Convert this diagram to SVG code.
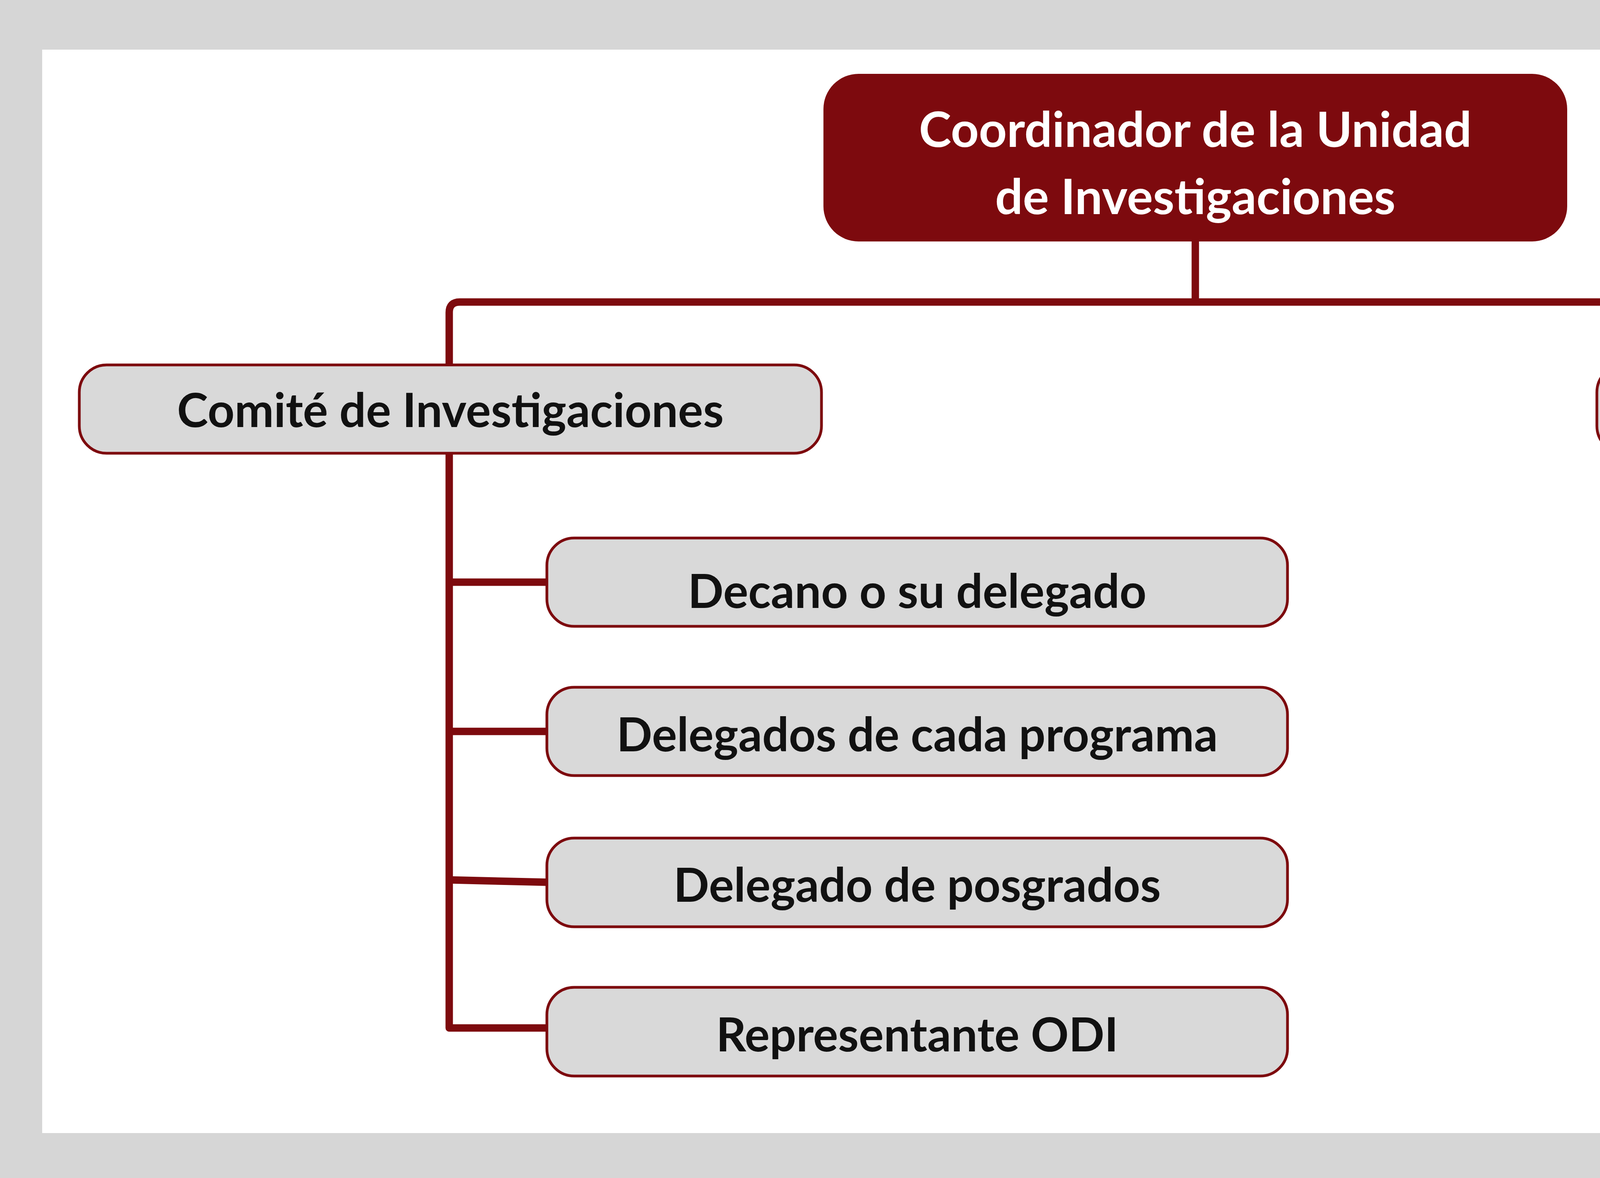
<svg xmlns="http://www.w3.org/2000/svg" width="7393" height="3015" viewBox="0 0 7393 3015">
<style>
.n{fill:#d9d9d9;stroke:#7d0a0e;stroke-width:7}
.t{font-family:Lato,"Liberation Sans",sans-serif;font-weight:bold;font-size:120px;fill:#111;text-anchor:middle;dominant-baseline:central}
.c{fill:none;stroke:#7d0a0e;stroke-width:19;stroke-linejoin:round}
</style>
<rect width="7393" height="3015" fill="#d6d6d6"/>
<rect x="108" y="127" width="7153" height="2773" fill="#fff"/>
<g id="connectors" class="c">
<path d="M3060 618V773"/>
<path d="M1150 934V800Q1150 773 1177 773H5009Q5036 773 5036 800V934"/>
<path d="M1150 1160V2631H1400M1150 1490H1400M1150 1872H1400M1150 2252L1400 2258"/>
<path d="M5036 1160V2246Q5036 2273 5063 2273H5234M5036 1877L5234 1872"/>
</g>
<g id="root"><rect x="2108" y="189" width="1904" height="429" rx="90" fill="#7d0a0e"/>
<text class="t" x="3060" y="328" style="fill:#fff;font-size:125px">Coordinador de la Unidad</text>
<text class="t" x="3060" y="500" style="fill:#fff;font-size:125px">de Investigaciones</text></g>
<g id="comite"><rect class="n" x="203" y="934" width="1900" height="226" rx="70"/><text class="t" x="1153" y="1047">Comité de Investigaciones</text></g>
<g id="secretaria"><rect class="n" x="4088" y="934" width="1895" height="226" rx="70"/><text class="t" x="5036" y="1047">Secretaría técnica</text></g>
<g id="decano"><rect class="n" x="1400" y="1377" width="1896" height="226" rx="70"/><text class="t" x="2348" y="1510">Decano o su delegado</text></g>
<g id="delegados"><rect class="n" x="1400" y="1759" width="1896" height="226" rx="70"/><text class="t" x="2348" y="1877">Delegados de cada programa</text></g>
<g id="posgrados"><rect class="n" x="1400" y="2145" width="1896" height="227" rx="70"/><text class="t" x="2348" y="2262">Delegado de posgrados</text></g>
<g id="representante"><rect class="n" x="1400" y="2527" width="1896" height="227" rx="70"/><text class="t" x="2348" y="2645">Representante ODI</text></g>
<g id="designado"><rect class="n" x="5234" y="1759" width="1900" height="226" rx="70"/><text class="t" x="6184" y="1877">Designado ODI</text></g>
<g id="designadodecano"><rect class="n" x="5234" y="2159" width="1900" height="227" rx="70"/><text class="t" x="6184" y="2275">Designado decano o monitor</text></g>
</svg>
